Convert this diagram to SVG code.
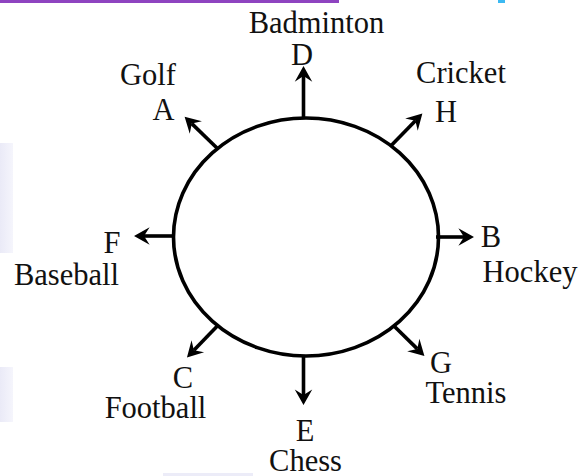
<svg xmlns="http://www.w3.org/2000/svg" width="585" height="476" viewBox="0 0 585 476">
  <style>
    .lbl { font-family: "Liberation Serif", "Times New Roman", serif; font-size: 30.5px; fill: #111; text-anchor: middle; }
    .arr { stroke: #000; stroke-width: 3.6; fill: none; marker-end: url(#head); }
  </style>
  <defs>
    <marker id="head" markerUnits="userSpaceOnUse" markerWidth="20" markerHeight="20" viewBox="-6 -8 16 16" refX="0" refY="0" orient="auto">
      <path d="M8,0 L-4.5,-7 L0,0 L-4.5,7 Z" fill="#000"/>
    </marker>
    <linearGradient id="lav" x1="0" y1="0" x2="1" y2="0">
      <stop offset="0" stop-color="#eaeaf7"/>
      <stop offset="1" stop-color="#f5f5fc"/>
    </linearGradient>
  </defs>
  <rect width="585" height="476" fill="#fff"/>
  <g id="background-marks">
    <rect x="0" y="0" width="339" height="3" fill="#8e44c0"/>
    <rect x="498" y="0" width="7" height="3" fill="#3cb9f2"/>
    <rect x="0" y="143" width="13" height="110" fill="url(#lav)"/>
    <rect x="0" y="367" width="13" height="55" fill="url(#lav)"/>
    <rect x="163" y="473" width="90" height="3" fill="#ececf8"/>
  </g>
  <g id="circle">
    <ellipse cx="306" cy="237" rx="132.5" ry="119" fill="none" stroke="#000" stroke-width="3.6"/>
  </g>
  <g id="connectors">
    <line class="arr" x1="303.5" y1="119" x2="303.5" y2="76"/>
    <line class="arr" x1="303.5" y1="355" x2="303.5" y2="395"/>
    <line class="arr" x1="175" y1="236" x2="144" y2="236"/>
    <line class="arr" x1="436" y1="237" x2="464" y2="237"/>
    <line class="arr" x1="218" y1="149" x2="191.8" y2="123.6"/>
    <line class="arr" x1="390.5" y1="146.2" x2="415.4" y2="120.7"/>
    <line class="arr" x1="394" y1="326" x2="417.3" y2="348.9"/>
    <line class="arr" x1="217.8" y1="325.6" x2="193.9" y2="350.3"/>
  </g>
  <g id="node-D">
    <text class="lbl" x="316.5" y="33">Badminton</text>
    <text class="lbl" x="302" y="65">D</text>
  </g>
  <g id="node-A">
    <text class="lbl" x="148" y="85">Golf</text>
    <text class="lbl" x="163.5" y="120">A</text>
  </g>
  <g id="node-H">
    <text class="lbl" x="461" y="83">Cricket</text>
    <text class="lbl" x="446" y="121.5">H</text>
  </g>
  <g id="node-F">
    <text class="lbl" x="112" y="252.5">F</text>
    <text class="lbl" x="66.5" y="285">Baseball</text>
  </g>
  <g id="node-B">
    <text class="lbl" x="491" y="246.5">B</text>
    <text class="lbl" x="530" y="282">Hockey</text>
  </g>
  <g id="node-C">
    <text class="lbl" x="183" y="388">C</text>
    <text class="lbl" x="155.5" y="418">Football</text>
  </g>
  <g id="node-E">
    <text class="lbl" x="305" y="441">E</text>
    <text class="lbl" x="305.5" y="470.5">Chess</text>
  </g>
  <g id="node-G">
    <text class="lbl" x="441" y="372.5">G</text>
    <text class="lbl" x="466" y="403">Tennis</text>
  </g>
</svg>
